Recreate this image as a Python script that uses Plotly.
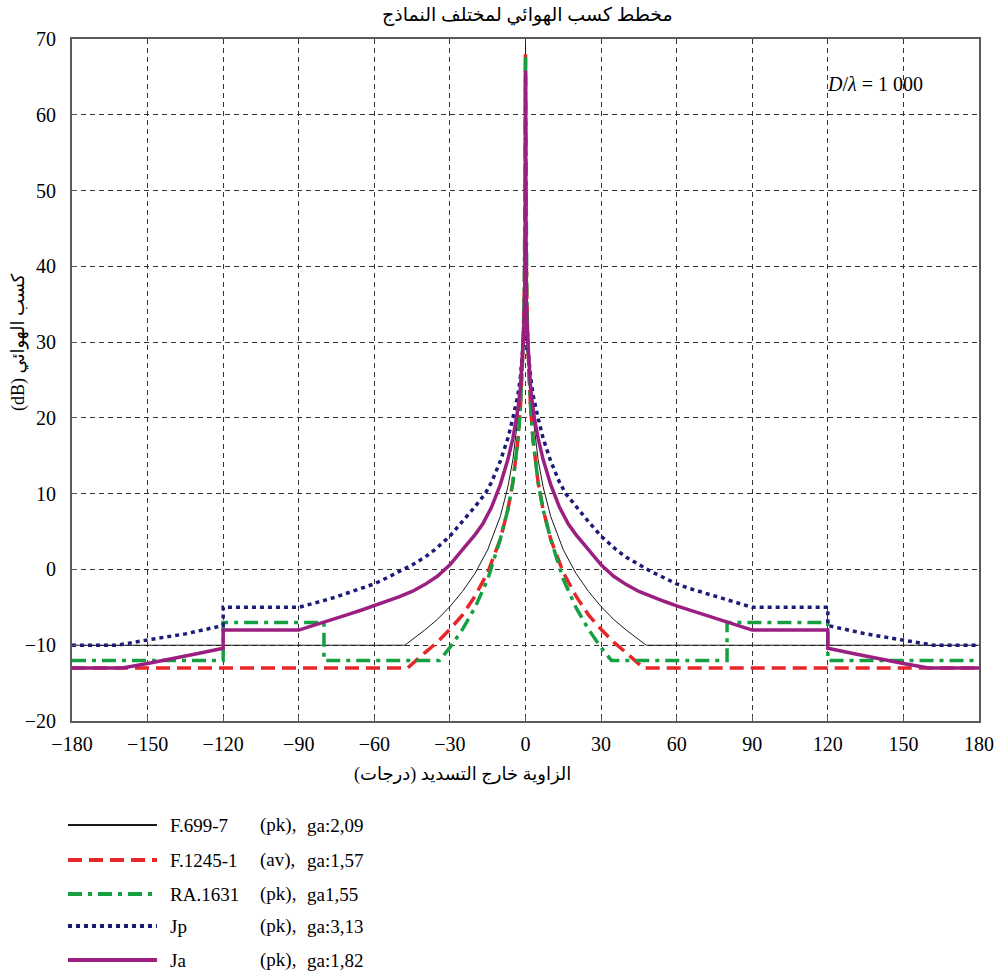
import plotly.graph_objects as go

# ---------------- data (positive half, pattern is symmetric) ----------------
f699_ang = [0, 0.1, 0.2, 0.25, 0.5, 1, 2, 3, 5, 7, 10, 15, 20, 25, 30, 35, 40, 47.9, 180]
f699_gain = [69.5, 52, 47, 47, 39.5, 32, 24.5, 20.1, 14.5, 10.9, 7, 2.6, -0.5, -2.9, -4.9, -6.6, -8, -10, -10]

f1245_ang = [0, 0.1, 0.2, 0.3, 0.5, 1, 2, 3, 5, 7, 10, 15, 20, 25, 30, 35, 40, 46.8, 180]
f1245_gain = [68.2, 55, 42, 42, 36.5, 29, 21.5, 17.1, 11.5, 7.9, 4, -0.4, -3.5, -6, -7.9, -9.6, -11, -13, -13]

ra1631_ang = [0, 0.1, 0.2, 0.3, 0.5, 1, 2, 3, 5, 7, 10, 15, 20, 25, 30, 34.1, 80, 80, 120, 120, 180]
ra1631_gain = [67.7, 55, 46, 42, 36.5, 29, 21.5, 17.1, 11.5, 7.9, 4, -1.3, -5, -7.9, -10.3, -12, -12, -7, -7, -12, -12]

jp_ang = [0, 0.15, 0.3, 0.6, 1, 2, 3, 5, 7, 10, 13.5, 16, 20, 25, 30, 36, 40, 45, 50, 55, 60, 65, 70, 75, 80, 85, 90, 120, 120, 135, 150, 162, 180]
jp_gain = [42, 40, 34, 31, 29, 25.5, 23, 20, 17.3, 14.3, 11.5, 10, 8.3, 6.3, 4.4, 2.6, 1.6, 0.6, -0.3, -1.1, -1.9, -2.5, -3.0, -3.6, -4.1, -4.6, -5, -5, -7.4, -8.5, -9.3, -10, -10]

ja_ang = [0, 0.15, 0.3, 0.6, 1, 1.5, 2, 3, 3.5, 5, 7, 10, 13.5, 17, 20, 24, 30, 35, 40, 45, 50, 55, 60, 65, 70, 75, 80, 85, 90, 120, 120, 130, 140, 150, 160, 180]
ja_gain = [65.8, 42, 36, 32, 29.5, 26.5, 24, 21.2, 20, 17.3, 14.5, 11.2, 8.2, 6.0, 4.6, 3.0, 0.6, -0.9, -2, -2.9, -3.6, -4.2, -4.8, -5.35, -5.9, -6.45, -7, -7.5, -8, -8, -10.4, -11.1, -11.8, -12.4, -13, -13]

series_names = ["F.699-7", "F.1245-1", "RA.1631", "Jp", "Ja"]
series_type = ["(pk),", "(av),", "(pk),", "(pk),", "(pk),"]
series_ga = ["ga:2,09", "ga:1,57", "ga1,55", "ga:3,13", "ga:1,82"]

x_ticks = [-180, -150, -120, -90, -60, -30, 0, 30, 60, 90, 120, 150, 180]
x_ticktext = ["\u2212180", "\u2212150", "\u2212120", "\u221290", "\u221260", "\u221230", "0", "30", "60", "90", "120", "150", "180"]
y_ticks = [-20, -10, 0, 10, 20, 30, 40, 50, 60, 70]
y_ticktext = ["\u221220", "\u221210", "0", "10", "20", "30", "40", "50", "60", "70"]

title_text = "مخطط كسب الهوائي لمختلف النماذج"
x_title = "\u202Bالزاوية خارج التسديد (درجات)\u202C"
y_title = "\u202Bكسب الهوائي (dB)\u202C"

# ---------------- styles ----------------
styles = [
    dict(color="#1a1a1a", width=1, dash="solid"),
    dict(color="#e8262a", width=3.5, dash="14px,7px"),
    dict(color="#14a040", width=3.5, dash="14px,6px,4px,6px"),
    dict(color="#1c1c78", width=3.5, dash="4px,4px"),
    dict(color="#9b1f80", width=3.5, dash="solid"),
]

def mirror(ang, gain):
    xs = [-a for a in reversed(ang)] + ang[1:]
    ys = list(reversed(gain)) + gain[1:]
    return xs, ys

data = [(f699_ang, f699_gain), (f1245_ang, f1245_gain), (ra1631_ang, ra1631_gain),
        (jp_ang, jp_gain), (ja_ang, ja_gain)]

SERIF = "Liberation Serif, Times New Roman, DejaVu Sans, serif"

fig = go.Figure()
for (ang, gain), name, st in zip(data, series_names, styles):
    xs, ys = mirror(ang, gain)
    fig.add_trace(go.Scatter(x=xs, y=ys, mode="lines", name=name,
                             line=dict(color=st["color"], width=st["width"], dash=st["dash"]),
                             showlegend=False))

L, R, T, B = 72, 27, 39, 254
W, H = 1006, 975
pw, ph = W - L - R, H - T - B

def px2paper_x(px):
    return (px - L) / pw

def px2paper_y(py):
    return (H - B - py) / ph

axis_common = dict(showgrid=True, gridcolor="#333333", gridwidth=1, griddash="5px,4px",
                   zeroline=False, showline=True, linecolor="#5a5a5a", linewidth=2, mirror=True,
                   ticks="inside", ticklen=5, tickcolor="#5a5a5a",
                   tickfont=dict(family=SERIF, size=20, color="black"))

fig.update_layout(
    width=W, height=H,
    margin=dict(l=L, r=R, t=T, b=B),
    paper_bgcolor="white", plot_bgcolor="white",
    font=dict(family=SERIF, size=18, color="black"),
    xaxis=dict(range=[-180, 180], tickvals=x_ticks, ticktext=x_ticktext, ticklabelstandoff=4, **axis_common),
    yaxis=dict(range=[-20, 70], tickvals=y_ticks, ticktext=y_ticktext, ticklabelstandoff=10, **axis_common),
)

annotations = [
    dict(text=title_text, x=px2paper_x(527), y=px2paper_y(15), xref="paper", yref="paper",
         showarrow=False, font=dict(family=SERIF, size=19, color="black"), xanchor="center", yanchor="middle"),
    dict(text=x_title, x=px2paper_x(462), y=px2paper_y(774), xref="paper", yref="paper",
         showarrow=False, font=dict(family=SERIF, size=18, color="black"), xanchor="center", yanchor="middle"),
    dict(text=y_title, x=px2paper_x(18), y=px2paper_y(342), xref="paper", yref="paper", textangle=-90,
         showarrow=False, font=dict(family=SERIF, size=18, color="black"), xanchor="center", yanchor="middle"),
    dict(text="<i>D</i>/<i>λ</i> = 1 000", x=px2paper_x(875), y=px2paper_y(84), xref="paper", yref="paper",
         showarrow=False, font=dict(family=SERIF, size=20, color="black"), xanchor="center", yanchor="middle"),
]

legend_rows = [825, 860, 894, 926, 960]
shapes = []
for i, py in enumerate(legend_rows):
    st = styles[i]
    shapes.append(dict(type="line", xref="paper", yref="paper",
                       x0=px2paper_x(68), x1=px2paper_x(157),
                       y0=px2paper_y(py), y1=px2paper_y(py),
                       line=dict(color=st["color"], width=2 if i == 0 else st["width"] + 0.5,
                                 dash=st["dash"] if i else "solid")))
    for txt, xp in ((series_names[i], 168), (series_type[i], 258), (series_ga[i], 305)):
        annotations.append(dict(text=txt, x=px2paper_x(xp), y=px2paper_y(py), xref="paper", yref="paper",
                                showarrow=False, xanchor="left", yanchor="middle",
                                font=dict(family=SERIF, size=19, color="black")))

fig.update_layout(annotations=annotations, shapes=shapes)
fig.write_html("out.html")
